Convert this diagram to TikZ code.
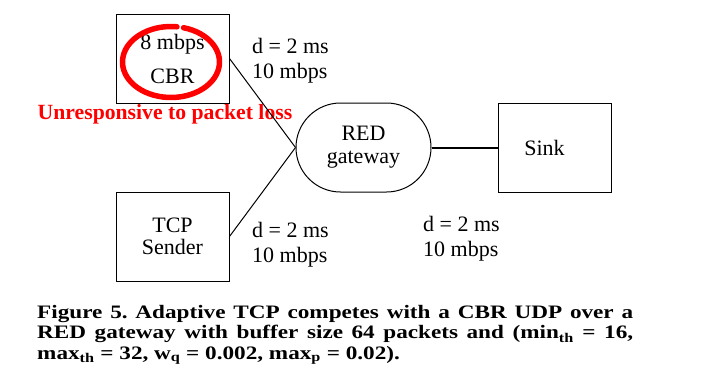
\documentclass[tikz,border=0pt]{standalone}
\usepackage{fontspec}
\setmainfont{Liberation Serif}
\newfontfamily\captionfont[FakeStretch=1.22]{Liberation Serif}
\usetikzlibrary{positioning}

\begin{document}
\begin{tikzpicture}[
		x=1pt, y=-1pt,
		host/.style={rectangle, draw=black, line width=1pt, minimum width=113pt, minimum height=89pt, align=center},
		router/.style={rectangle, rounded corners=44.5pt, draw=black, line width=1pt, minimum width=135pt, minimum height=89pt, align=center, font=\fontsize{22}{23}\selectfont},
		linkinfo/.style={anchor=north west, align=left, inner sep=0pt, font=\fontsize{22}{25}\selectfont},
		link/.style={draw=black, line width=1pt},
		ring/.style={draw=red, line width=5.5pt, line cap=round}
		]
		\useasboundingbox (0,0) rectangle (713,391);
		% hosts and gateway
		\node at (172.5, 58.5) [name=cbr source, host, font=\fontsize{22}{34}\selectfont] {8 mbps\\CBR};
		\node at (172.5, 236.5) [name=tcp sender, host, font=\fontsize{22}{22}\selectfont] {TCP\\Sender};
		\node at (363.5, 147.5) [name=red gateway, router] {RED\\gateway};
		\node at (554.5, 147.5) [name=sink, host, label={[xshift=-10pt, font=\fontsize{22}{22}\selectfont]center:Sink}] {};
		% link labels
		\node at (252, 38) [name=upper info, linkinfo] {d = 2 ms\\10 mbps};
		\node at (252, 222) [name=lower info, linkinfo] {d = 2 ms\\10 mbps};
		\node at (423, 216) [name=sink info, linkinfo] {d = 2 ms\\10 mbps};
		% remark
		\draw[ring] (cbr source.center) ++(-1.5, 3.5) ++(-75:48.5 and 35.5) arc[start angle=-75, end angle=277, x radius=48.5, y radius=35.5];
		\node at (165, 114) [name=remark, text=red, font=\bfseries\fontsize{21.7}{24}\selectfont] {Unresponsive to packet loss};
		% links
		\draw[link] (cbr source.east) -- (red gateway.west);
		\draw[link] (tcp sender.east) -- (red gateway.west);
		\draw[link, line width=2pt] (red gateway.east) -- (sink.west);
		% caption
		\node at (37, 305) [name=caption, anchor=north west, inner sep=0pt, text width=596pt, align=justify, font=\captionfont\bfseries\fontsize{19}{20.5}\selectfont\frenchspacing]
			{Figure 5. Adaptive TCP competes with a CBR UDP over a\linebreak RED gateway with buffer size 64 packets and (min\textsubscript{th} = 16,\linebreak max\textsubscript{th} = 32, w\textsubscript{q} = 0.002, max\textsubscript{p} = 0.02).};
	\end{tikzpicture}
\end{document}
